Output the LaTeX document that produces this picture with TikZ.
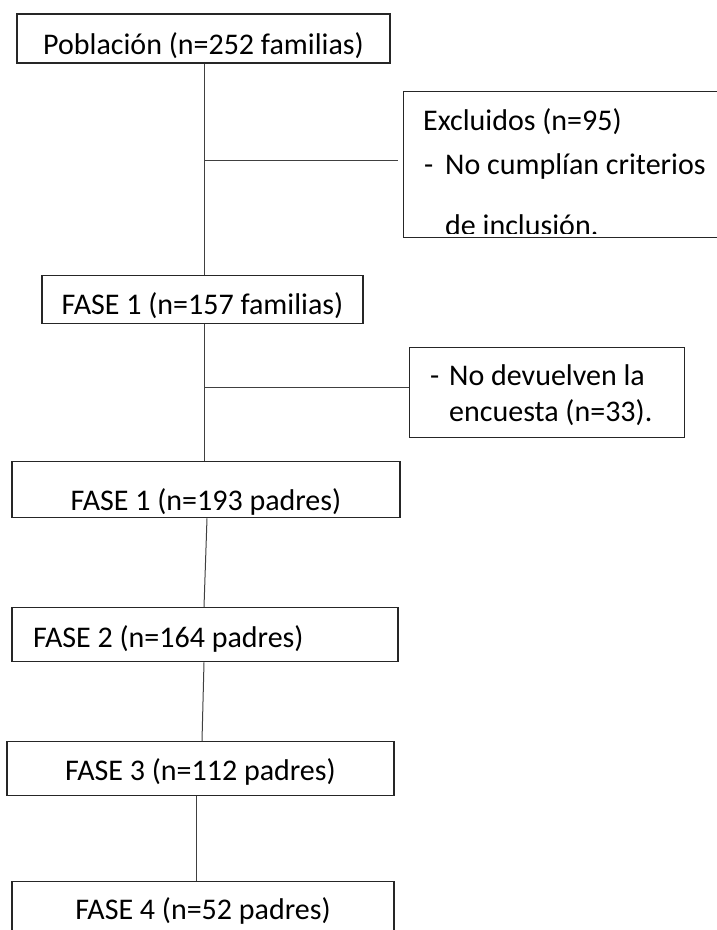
\documentclass[tikz,border=0pt]{standalone}
\usepackage{fontspec}
\setmainfont{Carlito}
\usetikzlibrary{positioning,calc}

\begin{document}
\begin{tikzpicture}[x=1pt, y=-1pt,
  font=\fontsize{30}{36}\selectfont,
  stagebox/.style={draw=black!85, line width=1.3pt, inner sep=0pt},
  notebox/.style={draw=black!85, line width=1.3pt, inner sep=0pt},
  txt/.style={inner sep=0pt, anchor=base west},
  link/.style={draw=black!75, line width=1pt}
]
  \useasboundingbox (0,0) rectangle (717,930);

  % -- main column --
  \node[stagebox, line width=2pt, anchor=north, minimum width=373pt,
        text height=40pt, text depth=9pt] (pob) at (203.5,13)
    {Población (n=252 familias)};
  \node[stagebox, anchor=north, minimum width=321pt, minimum height=48pt]
    (fs1f) at (202.5,275) {};
  \node[stagebox, anchor=north, minimum width=388pt,
        text height=49pt, text depth=7pt] (fs1p) at (206,461)
    {FASE 1 (n=193 padres)};
  \node[stagebox, anchor=north, minimum width=386pt,
        text height=40pt, text depth=14pt] (fs2) at (205,607)
    {\makebox[344pt][l]{FASE 2 (n=164 padres)}};
  \node[stagebox, anchor=north, minimum width=387pt,
        text height=39pt, text depth=15pt] (fs3) at (200.5,741)
    {FASE 3 (n=112 padres)};
  \node[stagebox, anchor=north, minimum width=382pt,
        text height=38pt, text depth=27pt] (fs4) at (203,881)
    {FASE 4 (n=52 padres)};

  % -- side notes --
  \node[notebox, anchor=north west, minimum width=322pt, minimum height=146pt]
    (excl) at (403,91) {};
  \node[notebox, anchor=north west, minimum width=275pt, minimum height=90pt]
    (ndv) at (409,347) {};

  \node[txt] (exc1) at (423,130) {Excluidos (n=95)};
  \node[txt] (exc2) at (424,174) {\makebox[21pt][l]{-}No cumplían criterios};
  % text cut off at the inner margin of the box
  \begin{scope}
    \clip (excl.north west) rectangle ([yshift=5pt]excl.south east);
    \node[txt] (exc3) at (445,235) {de inclusión.};
  \end{scope}
  \begin{scope}
    \clip (fs1f.north west) rectangle ([yshift=5pt]fs1f.south east);
    \node[inner sep=0pt, anchor=base] (fs1ft) at (202.5,314)
      {FASE 1 (n=157 familias)};
  \end{scope}
  \node[txt] (ndv1) at (430,385) {\makebox[19pt][l]{-}No devuelven la};
  \node[txt] (ndv2) at (449,421) {encuesta (n=33).};

  % -- connectors --
  \coordinate (j1) at (204,160);
  \coordinate (j2) at (204,387);
  \draw[link] ([xshift=0.5pt]pob.south) -- ([xshift=1.5pt]fs1f.north);
  \draw[link, shorten >=5pt] (j1) -- (j1 -| excl.west);
  \draw[link] ([xshift=1.5pt]fs1f.south) -- ([xshift=-2pt]fs1p.north);
  \draw[link] (j2) -- (j2 -| ndv.west);
  \draw[link] ([xshift=1pt]fs1p.south) -- ([xshift=-1pt]fs2.north);
  \draw[link] ([xshift=-1pt]fs2.south) -- ([xshift=1.5pt]fs3.north);
  \draw[link] ([xshift=-4.5pt]fs3.south) -- ([xshift=-7pt]fs4.north);
\end{tikzpicture}
\end{document}
